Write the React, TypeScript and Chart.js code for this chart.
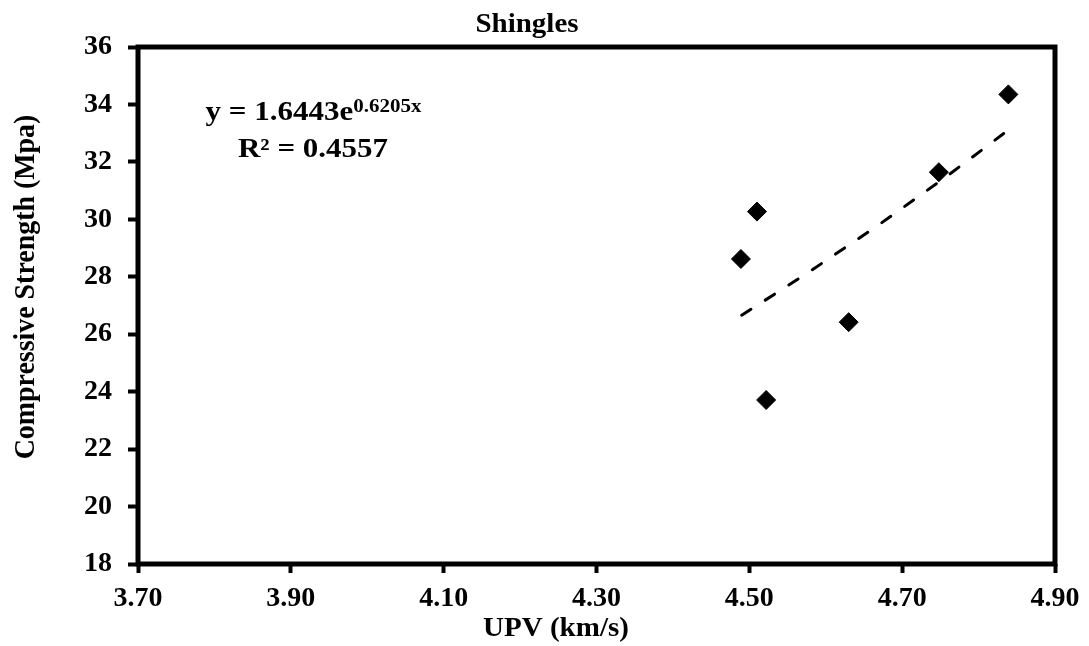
import { useEffect, useRef } from 'react';
import { Chart, registerables } from 'chart.js';

Chart.register(...registerables);

const chartTitle = 'Shingles';
const xTitle = 'UPV (km/s)';
const yTitle = 'Compressive Strength (Mpa)';
const upv = [4.839, 4.748, 4.51, 4.489, 4.63, 4.522];
const strength = [34.35, 31.64, 30.27, 28.62, 26.42, 23.71];
const trendX = [4.49, 4.58, 4.67, 4.76, 4.84];
const trendY = [26.66, 28.2, 29.82, 31.53, 33.13];
const xTicks = [3.7, 3.9, 4.1, 4.3, 4.5, 4.7, 4.9];
const yTicks = [18, 20, 22, 24, 26, 28, 30, 32, 34, 36];
const eqMain = 'y = 1.6443e';
const eqSup = '0.6205x';
const r2Text = 'R² = 0.4557';

const FONT = '"Liberation Serif", "Times New Roman", serif';

function drawScaled(ctx: any, text: string, x: number, y: number, size: number, sy: number, align: string) {
  ctx.save();
  ctx.translate(x, y);
  ctx.scale(1, sy);
  ctx.font = `bold ${size}px ${FONT}`;
  ctx.textAlign = align;
  ctx.textBaseline = 'alphabetic';
  ctx.fillText(text, 0, 0);
  ctx.restore();
}

const decor = {
  id: 'decor',
  beforeDatasetsDraw(chart: any) {
    const { ctx, chartArea: a } = chart;
    ctx.save();
    ctx.strokeStyle = '#000';
    ctx.lineWidth = 5;
    ctx.strokeRect(a.left, a.top, a.right - a.left, a.bottom - a.top);
    ctx.restore();
  },
  afterDraw(chart: any) {
    const { ctx } = chart;
    ctx.save();
    ctx.fillStyle = '#000';
    drawScaled(ctx, chartTitle, 527, 32, 29, 0.92, 'center');
    drawScaled(ctx, xTitle, 556, 636, 29, 0.92, 'center');
    // y title (rotated)
    ctx.save();
    ctx.translate(34, 287);
    ctx.rotate(-Math.PI / 2);
    ctx.scale(0.93, 1);
    ctx.font = `bold 30px ${FONT}`;
    ctx.textAlign = 'center';
    ctx.textBaseline = 'alphabetic';
    ctx.fillText(yTitle, 0, 0);
    ctx.restore();
    // equation
    ctx.font = `bold 31px ${FONT}`;
    const w1 = ctx.measureText(eqMain).width;
    ctx.font = `bold 21px ${FONT}`;
    const w2 = ctx.measureText(eqSup).width;
    const x0 = 313.5 - (w1 + w2) / 2;
    drawScaled(ctx, eqMain, x0, 120, 31, 0.85, 'left');
    drawScaled(ctx, eqSup, x0 + w1, 112, 21, 0.85, 'left');
    drawScaled(ctx, r2Text, 313, 157, 31, 0.85, 'center');
    ctx.restore();
  },
};

export default function App() {
  const ref = useRef<HTMLCanvasElement>(null);
  useEffect(() => {
    if (!ref.current) return;
    const chart = new Chart(ref.current, {
      type: 'scatter',
      data: {
        datasets: [
          {
            label: 'Trend',
            data: trendX.map((x, i) => ({ x, y: trendY[i] })),
            showLine: true,
            borderColor: '#000',
            borderWidth: 3,
            borderDash: [11, 17],
            borderCapStyle: 'round',
            pointRadius: 0,
            fill: false,
          } as any,
          {
            label: 'Shingles',
            data: upv.map((x, i) => ({ x, y: strength[i] })),
            pointStyle: 'rectRot',
            pointRadius: 9.5,
            pointBackgroundColor: '#000',
            pointBorderColor: '#000',
            pointBorderWidth: 1,
            showLine: false,
          } as any,
        ],
      },
      options: {
        responsive: false,
        animation: false,
        layout: { padding: { top: 47, right: 34, left: 0, bottom: 0 } },
        plugins: { legend: { display: false }, tooltip: { enabled: false }, title: { display: false } },
        scales: {
          x: {
            type: 'linear',
            min: 3.7,
            max: 4.9,
            afterBuildTicks: (s: any) => {
              s.ticks = xTicks.map((v) => ({ value: v }));
            },
            afterFit: (s: any) => {
              s.height = 82;
            },
            border: { display: false },
            grid: { display: true, drawOnChartArea: false, drawTicks: true, tickLength: 9, tickWidth: 4, tickColor: '#000', color: '#000' },
            ticks: {
              padding: 9,
              color: '#000',
              font: { family: FONT, size: 28, weight: 'bold' },
              callback: (v: any) => Number(v).toFixed(2),
              maxRotation: 0,
              autoSkip: false,
            },
          },
          y: {
            type: 'linear',
            min: 18,
            max: 36,
            afterBuildTicks: (s: any) => {
              s.ticks = yTicks.map((v) => ({ value: v }));
            },
            afterFit: (s: any) => {
              s.width = 138;
            },
            border: { display: false },
            grid: { display: true, drawOnChartArea: false, drawTicks: true, tickLength: 10, tickWidth: 4, tickColor: '#000', color: '#000' },
            ticks: {
              padding: 16,
              color: '#000',
              font: { family: FONT, size: 28, weight: 'bold' },
              callback: (v: any) => String(v),
              autoSkip: false,
            },
          },
        },
      } as any,
      plugins: [decor],
    });
    return () => chart.destroy();
  }, []);
  return (
    <div style={{ position: 'fixed', left: 0, top: 0, width: 1089, height: 646, background: '#fff' }}>
      <canvas ref={ref} width={1089} height={646} style={{ display: 'block' }} />
    </div>
  );
}
